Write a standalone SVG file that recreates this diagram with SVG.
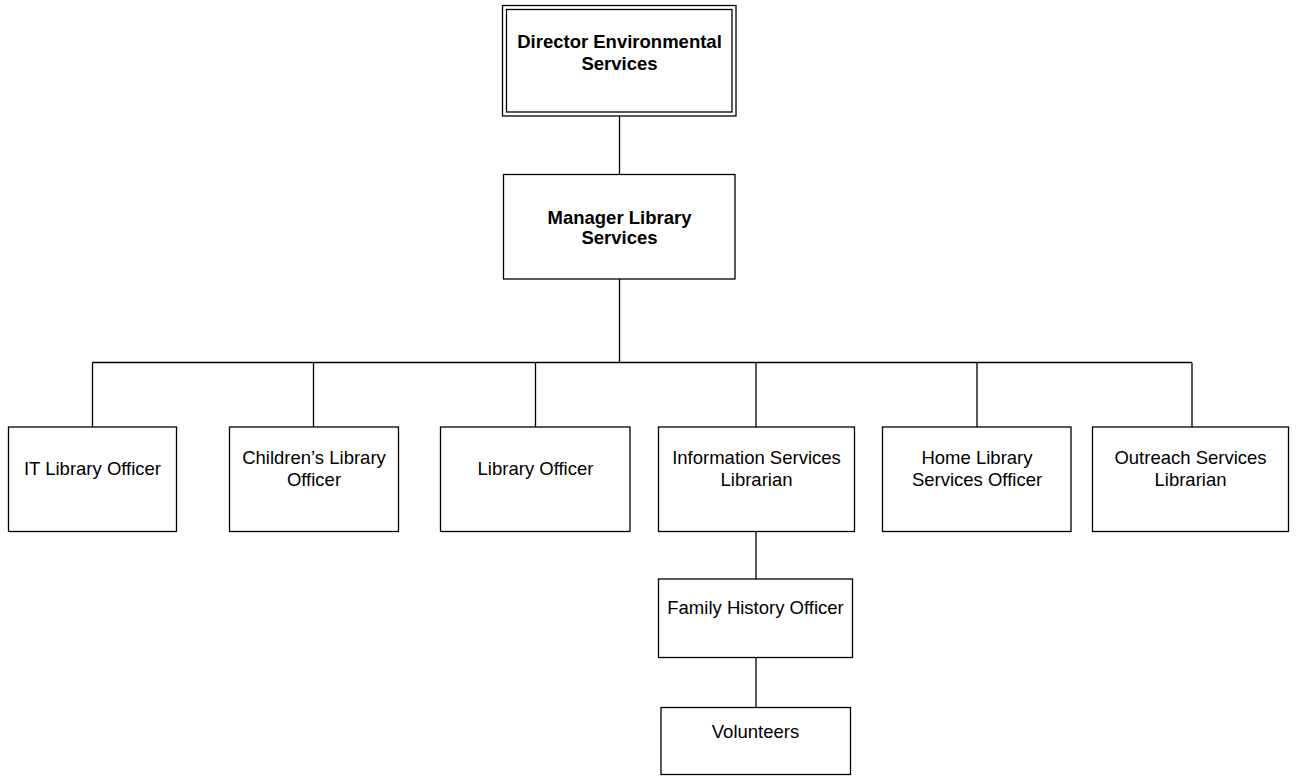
<svg xmlns="http://www.w3.org/2000/svg" width="1297" height="776" viewBox="0 0 1297 776">
<style>
rect{fill:#fff;stroke:#000;stroke-width:1.3}
text{font-family:"Liberation Sans",Arial,sans-serif;font-size:18.5px;text-anchor:middle;fill:#000}
.b{font-weight:bold}
#connectors line{stroke:#000;stroke-width:1.3}
</style>
<rect x="0" y="0" width="1297" height="776" style="stroke:none"/>
<g id="connectors">
<line x1="619.5" y1="116" x2="619.5" y2="174.5"/>
<line x1="619.5" y1="279" x2="619.5" y2="362.5"/>
<line x1="92.5" y1="362.5" x2="1192" y2="362.5"/>
<line x1="92.5" y1="362.5" x2="92.5" y2="427"/>
<line x1="313.5" y1="362.5" x2="313.5" y2="427"/>
<line x1="535.5" y1="362.5" x2="535.5" y2="427"/>
<line x1="756" y1="362.5" x2="756" y2="427"/>
<line x1="977" y1="362.5" x2="977" y2="427"/>
<line x1="1192" y1="362.5" x2="1192" y2="427"/>
<line x1="756" y1="531.5" x2="756" y2="579"/>
<line x1="756" y1="657.5" x2="756" y2="707.5"/>
</g>
<g id="director">
<rect x="502.5" y="5.5" width="233.5" height="110.5"/>
<rect x="506.5" y="9.5" width="225.5" height="102.5"/>
<text class="b" x="619.5" y="48">Director Environmental</text>
<text class="b" x="619.5" y="69.5">Services</text>
</g>
<g id="manager">
<rect x="503.5" y="174.5" width="231.5" height="104.5"/>
<text class="b" x="619.5" y="223.5">Manager Library</text>
<text class="b" x="619.5" y="243.5">Services</text>
</g>
<g id="it-officer">
<rect x="8.5" y="427" width="168" height="104.5"/>
<text x="92.5" y="475">IT Library Officer</text>
</g>
<g id="childrens-officer">
<rect x="229.5" y="427" width="169" height="104.5"/>
<text x="314" y="464">Children’s Library</text>
<text x="314" y="485.5">Officer</text>
</g>
<g id="library-officer">
<rect x="440.5" y="427" width="189.5" height="104.5"/>
<text x="535.5" y="475">Library Officer</text>
</g>
<g id="info-librarian">
<rect x="658.5" y="427" width="196" height="104.5"/>
<text x="756.5" y="464">Information Services</text>
<text x="756.5" y="485.5">Librarian</text>
</g>
<g id="home-officer">
<rect x="882.5" y="427" width="188.5" height="104.5"/>
<text x="977" y="464">Home Library</text>
<text x="977" y="485.5">Services Officer</text>
</g>
<g id="outreach-librarian">
<rect x="1092.5" y="427" width="196" height="104.5"/>
<text x="1190.5" y="464">Outreach Services</text>
<text x="1190.5" y="485.5">Librarian</text>
</g>
<g id="family-history">
<rect x="658.5" y="579" width="194" height="78.5"/>
<text x="755.5" y="614">Family History Officer</text>
</g>
<g id="volunteers">
<rect x="661" y="707.5" width="189.5" height="67"/>
<text x="755.5" y="738">Volunteers</text>
</g>
</svg>
